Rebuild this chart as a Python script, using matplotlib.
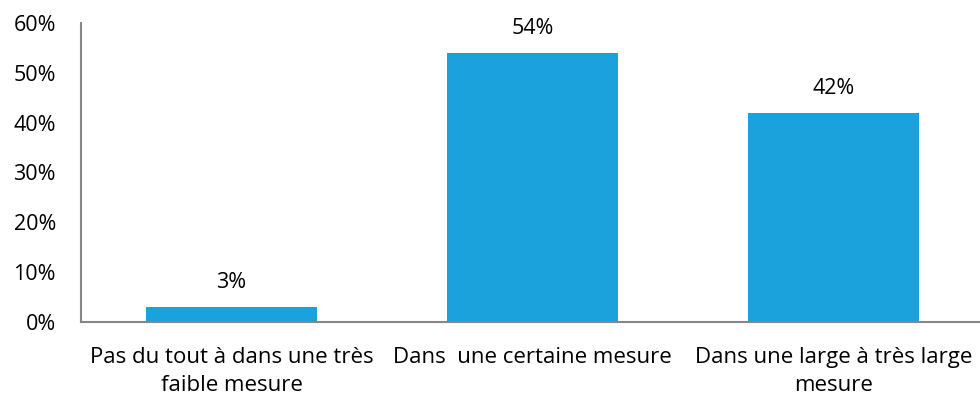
import matplotlib
matplotlib.use("Agg")
import matplotlib.pyplot as plt
from matplotlib.ticker import FuncFormatter

categories = ["Pas du tout à dans une très\nfaible mesure",
              "Dans  une certaine mesure",
              "Dans une large à très large\nmesure"]
values = [3, 54, 42]
labels = ["3%", "54%", "42%"]

plt.rcParams['font.family'] = ['Open Sans', 'DejaVu Sans']

fig = plt.figure(figsize=(9.8, 4.01), dpi=100)
ax = fig.add_axes([81 / 980, 1 - 322 / 401, 1 - 81 / 980, 299 / 401])

x = range(len(categories))
ax.bar(x, values, width=0.57, color='#1ba1dc')
for i, v in enumerate(values):
    ax.text(i, v + 2.8, labels[i], ha='center', va='bottom', fontsize=15.5)

ax.set_ylim(0, 60)
ax.set_xlim(-0.5, 2.487)
ax.set_yticks(range(0, 61, 10))
ax.yaxis.set_major_formatter(FuncFormatter(lambda v, p: f"{int(v)}%"))
ax.set_xticks(list(x))
ax.set_xticklabels(categories, fontsize=16, linespacing=1.42)
ax.tick_params(axis='y', length=0, pad=18, labelsize=15.5)
ax.tick_params(axis='x', length=0, pad=18)

for s in ['top', 'right']:
    ax.spines[s].set_visible(False)
for s in ['left', 'bottom']:
    ax.spines[s].set_color('#868686')
    ax.spines[s].set_linewidth(1.5)

fig.savefig("out.png", dpi=100)
